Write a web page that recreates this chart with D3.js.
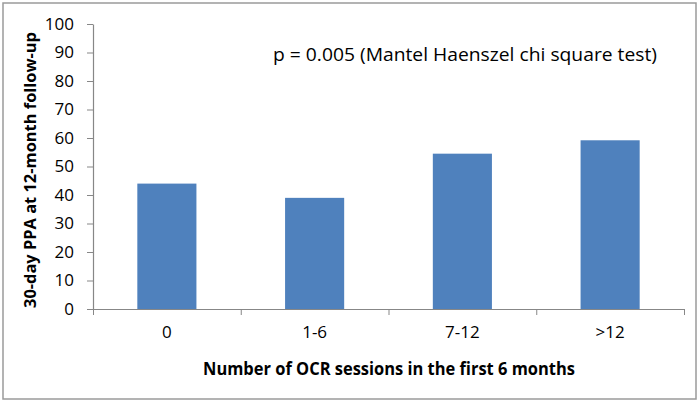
<!DOCTYPE html>
<html>
<head>
<meta charset="utf-8">
<script src="https://cdn.jsdelivr.net/npm/d3@7"></script>
<style>
  html, body { margin: 0; padding: 0; background: #fff; }
  svg { display: block; }
  text { font-family: "Open Sans", Lato, sans-serif; fill: #000; }
</style>
</head>
<body>
<svg id="chart" width="700" height="404"></svg>
<script>
const categories = ["0", "1-6", "7-12", ">12"];
const values = [44, 39, 54.5, 59.2];
const yTickValues = [0, 10, 20, 30, 40, 50, 60, 70, 80, 90, 100];
const yTitle = "30-day PPA at 12-month follow-up";
const xTitle = "Number of OCR sessions in the first 6 months";
const annotation = "p = 0.005 (Mantel Haenszel chi square test)";

(function () {
const svg = d3.select("#chart");
const plotLeft = 93, plotRight = 684, plotTop = 24, plotBottom = 309;
const regularFont = "'Open Sans', sans-serif";

// outer frame
svg.append("rect")
  .attr("x", 3).attr("y", 3).attr("width", 693).attr("height", 396)
  .attr("fill", "#fff").attr("stroke", "#9a9a9a").attr("stroke-width", 1.5);

const x = d3.scaleBand().domain(categories).range([plotLeft, plotRight]).padding(0);
const xEdge = d3.scaleLinear().domain([0, categories.length]).range([plotLeft, plotRight]);
const y = d3.scaleLinear().domain([0, 100]).range([plotBottom, plotTop]);

// bars
svg.append("g").selectAll("rect")
  .data(values)
  .join("rect")
  .attr("x", (d, i) => x(categories[i]) + x.bandwidth() * 0.3)
  .attr("width", x.bandwidth() * 0.4)
  .attr("y", d => y(d))
  .attr("height", d => y(0) - y(d))
  .attr("fill", "#4F81BD");

const axisColor = "#878787";

// y axis
const gy = svg.append("g").attr("transform", `translate(${plotLeft},0)`)
  .call(d3.axisLeft(y).tickValues(yTickValues).tickSize(6).tickSizeOuter(0).tickPadding(13));
gy.selectAll("line").attr("stroke", axisColor);
gy.select(".domain").attr("stroke", axisColor).attr("stroke-width", 1.2);
gy.selectAll("text").attr("font-size", 17).attr("font-family", regularFont).attr("fill", "#000");

// x axis boundary ticks
const gxe = svg.append("g").attr("transform", `translate(0,${plotBottom})`)
  .call(d3.axisBottom(xEdge).ticks(categories.length).tickFormat("").tickSize(6).tickSizeOuter(0));
gxe.selectAll("line").attr("stroke", axisColor);
gxe.select(".domain").attr("stroke", axisColor).attr("stroke-width", 1.2);

// x axis category labels
const gx = svg.append("g").attr("transform", `translate(0,${plotBottom})`)
  .call(d3.axisBottom(x).tickSize(0).tickPadding(17));
gx.select(".domain").remove();
gx.selectAll("text").attr("font-size", 17).attr("font-family", regularFont).attr("fill", "#000");

// titles
svg.append("text")
  .attr("transform", `translate(36,170) rotate(-90)`)
  .attr("text-anchor", "middle")
  .attr("font-family", "Lato, sans-serif")
  .attr("font-size", 16.5).attr("font-weight", "bold")
  .attr("textLength", 276).attr("lengthAdjust", "spacingAndGlyphs")
  .text(yTitle);

svg.append("text")
  .attr("x", 389).attr("y", 375)
  .attr("text-anchor", "middle")
  .attr("font-family", "Lato, sans-serif")
  .attr("font-size", 17).attr("font-weight", "bold")
  .attr("textLength", 372).attr("lengthAdjust", "spacingAndGlyphs")
  .text(xTitle);

svg.append("text")
  .attr("x", 273).attr("y", 61)
  .attr("font-family", regularFont)
  .attr("font-size", 19)
  .attr("textLength", 384).attr("lengthAdjust", "spacingAndGlyphs")
  .text(annotation);
})();
</script>
</body>
</html>
